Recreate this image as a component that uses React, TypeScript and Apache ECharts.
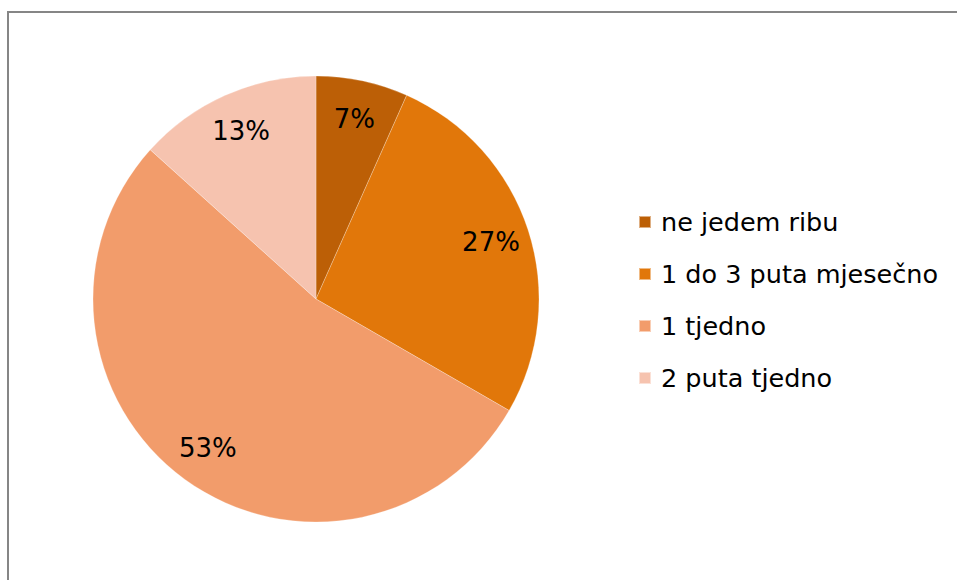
import React, { useEffect, useRef } from "react";
import * as echarts from "echarts";

const categories = ["ne jedem ribu", "1 do 3 puta mjesečno", "1 tjedno", "2 puta tjedno"];
const counts = [1, 4, 8, 2];
const colors = ["#BC5F06", "#E1770A", "#F29C6B", "#F6C3AF"];

const FONT = "'DejaVu Sans', Verdana, sans-serif";

export default function App() {
  const ref = useRef<HTMLDivElement>(null);
  useEffect(() => {
    if (!ref.current) return;
    const chart = echarts.init(ref.current, undefined, { renderer: "svg" });
    const data = categories.map((name, i) => ({ name, value: counts[i] }));
    chart.setOption({
      animation: false,
      backgroundColor: "#ffffff",
      color: colors,
      graphic: [
        {
          type: "rect",
          shape: { x: 8, y: 12, width: 1200, height: 1200 },
          style: { fill: "none", stroke: "#868686", lineWidth: 2 },
          silent: true,
        },
      ],
      legend: {
        orient: "vertical",
        left: 638,
        top: 209,
        padding: 0,
        itemWidth: 12,
        itemHeight: 12,
        itemGap: 26,
        icon: "rect",
        selectedMode: false,
        data: categories,
        textStyle: {
          fontFamily: FONT,
          fontSize: 25.5,
          lineHeight: 26,
          color: "#000",
          padding: [0, 0, 0, 5],
        },
      },
      series: [
        {
          type: "pie",
          center: [316, 299],
          radius: [0, 223],
          startAngle: 90,
          clockwise: true,
          silent: true,
          data,
          label: { show: false },
          labelLine: { show: false },
          itemStyle: { borderColor: "rgba(255,255,255,0.5)", borderWidth: 0.5 },
        },
        {
          type: "pie",
          center: [316, 299],
          radius: [0, 362],
          startAngle: 90,
          clockwise: true,
          silent: true,
          legendHoverLink: false,
          data,
          itemStyle: { color: "rgba(0,0,0,0)" },
          label: {
            show: true,
            position: "inside",
            color: "#000",
            fontFamily: FONT,
            fontSize: 26,
            formatter: (p: any) => Math.round(p.percent) + "%",
          },
          labelLine: { show: false },
        },
      ],
    });
    return () => chart.dispose();
  }, []);
  return (
    <div
      ref={ref}
      style={{ position: "fixed", left: 0, top: 0, width: 957, height: 580 }}
    />
  );
}
